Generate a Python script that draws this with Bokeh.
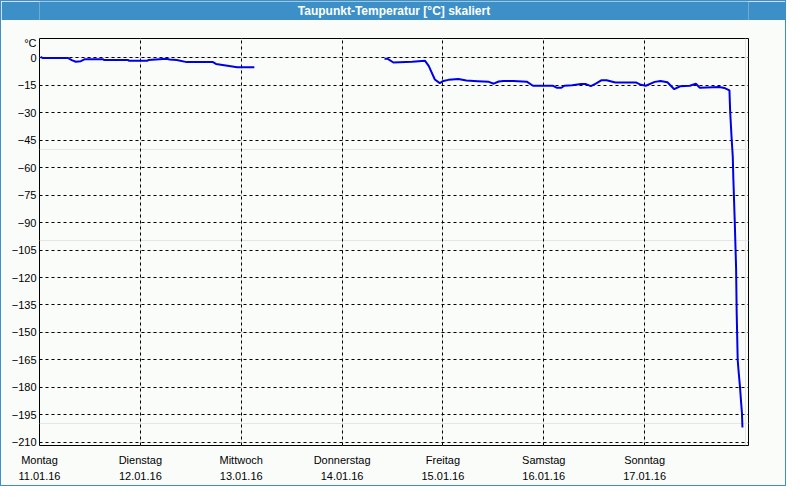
from bokeh.plotting import figure
from bokeh.layouts import column
from bokeh.models import FixedTicker, LinearAxis, Range1d, Grid
from bokeh.core.properties import value
from bokeh.embed import file_html
from bokeh.resources import INLINE

# ---------------- data ----------------
title_text = "Taupunkt-Temperatur [°C] skaliert"
unit_label = "°C"
day_names = ["Montag", "Dienstag", "Mittwoch", "Donnerstag", "Freitag", "Samstag", "Sonntag"]
day_dates = ["11.01.16", "12.01.16", "13.01.16", "14.01.16", "15.01.16", "16.01.16", "17.01.16"]
y_ticks = [0, -15, -30, -45, -60, -75, -90, -105, -120, -135, -150, -165, -180, -195, -210]

# days since Monday 00:00, dew point in °C
seg1_days = [0.01, 0.03, 0.28, 0.32, 0.36, 0.41, 0.45, 0.63, 0.64, 0.88, 0.89, 1.07, 1.08,
             1.26, 1.29, 1.36, 1.46, 1.72, 1.75, 1.88, 1.96, 2.13]
seg1_temp = [0.5, 0.0, 0.0, -1.2, -2.1, -1.8, -0.7, -0.7, -1.2, -1.2, -1.6, -1.6, -1.1,
             -0.5, -0.9, -1.2, -2.3, -2.3, -3.3, -4.4, -5.1, -5.1]

seg2_days = [3.421, 3.453, 3.509, 3.696, 3.823, 3.859, 3.920, 3.969, 4.005, 4.056, 4.154,
             4.232, 4.345, 4.455, 4.504, 4.553, 4.601, 4.698, 4.835, 4.893, 5.088, 5.127,
             5.175, 5.204, 5.282, 5.370, 5.418, 5.467, 5.516, 5.574, 5.623, 5.710, 5.914,
             5.963, 6.012, 6.100, 6.158, 6.226, 6.294, 6.352, 6.449, 6.508, 6.547, 6.741,
             6.790, 6.841, 6.848, 6.861, 6.874, 6.880, 6.894, 6.907, 6.913, 6.923, 6.933,
             6.946, 6.955, 6.965, 6.970]
seg2_temp = [-0.4, -0.5, -2.5, -2.1, -1.6, -4.4, -11.8, -13.8, -12.6, -12.0, -11.5,
             -12.4, -12.7, -13.1, -14.1, -12.9, -12.6, -12.6, -13.1, -15.2, -15.2, -16.3,
             -16.3, -15.2, -15.0, -14.3, -14.3, -15.4, -14.1, -12.2, -12.2, -13.4, -13.4,
             -14.7, -15.2, -13.1, -12.6, -13.3, -17.1, -15.5, -15.2, -14.1, -16.3, -15.9,
             -16.4, -17.7, -29.0, -42.4, -53.9, -66.3, -90.0, -114.8, -139.6, -165.2, -172.0,
             -180.0, -187.0, -194.0, -202.0]

# ---------------- style ----------------
BLUE = "#3c8fc7"
BG = "#fafcfa"
LINE = "#0000e6"
FONT = "Liberation Sans"

# title bar
head = figure(width=784, height=19, x_range=(0, 1), y_range=(0, 1),
              output_backend="svg", toolbar_location=None,
              x_axis_location=None, y_axis_location=None, min_border=0)
head.grid.visible = False
head.background_fill_color = BLUE
head.border_fill_color = BLUE
head.outline_line_color = None
head.text(x=[0.5], y=[0.5], text=[title_text], text_align="center",
          text_baseline="middle", text_color="white", text_font=value(FONT),
          text_font_style="bold", text_font_size="12px")

# main chart
p = figure(width=784, height=465, x_range=Range1d(0, 7.03), y_range=Range1d(-211.8, 10.6),
           output_backend="svg", toolbar_location=None,
           x_axis_location=None, y_axis_location=None,
           min_border_left=38, min_border_right=37, min_border_top=18, min_border_bottom=40)
p.background_fill_color = BG
p.border_fill_color = BG
p.outline_line_color = "black"
p.outline_line_width = 1

unit_pos = 8.0
yax = LinearAxis(ticker=FixedTicker(ticks=[unit_pos] + y_ticks),
                 major_label_overrides={unit_pos: unit_label})
yax.axis_line_color = None
yax.major_tick_out = 0
yax.major_tick_in = 0
yax.minor_tick_out = 0
yax.minor_tick_in = 0
yax.major_label_standoff = 3
yax.major_label_text_font = FONT
yax.major_label_text_font_size = "11px"
yax.major_label_text_color = "black"
p.add_layout(yax, "left")

for labels, standoff in ((day_names, 8), (day_dates, 3)):
    ax = LinearAxis(ticker=FixedTicker(ticks=list(range(len(labels)))),
                    major_label_overrides={i: s for i, s in enumerate(labels)})
    ax.axis_line_color = None
    ax.major_tick_out = 0
    ax.major_tick_in = 0
    ax.minor_tick_out = 0
    ax.minor_tick_in = 0
    ax.major_label_standoff = standoff
    ax.major_label_text_font = FONT
    ax.major_label_text_font_size = "11px"
    ax.major_label_text_color = "black"
    p.add_layout(ax, "below")

xg = Grid(dimension=0, ticker=FixedTicker(ticks=list(range(1, len(day_names)))),
          grid_line_color="black", grid_line_dash="3 3", grid_line_width=1)
yg = Grid(dimension=1, ticker=FixedTicker(ticks=y_ticks),
          grid_line_color="black", grid_line_dash="3 3", grid_line_width=1)
p.add_layout(xg)
p.add_layout(yg)

p.line(seg1_days, seg1_temp, line_color=LINE, line_width=2)
p.line(seg2_days, seg2_temp, line_color=LINE, line_width=2)

layout = column(head, p, spacing=0, styles={"border": "1px solid " + BLUE})

with open("out.html", "w") as f:
    f.write(file_html(layout, INLINE))
